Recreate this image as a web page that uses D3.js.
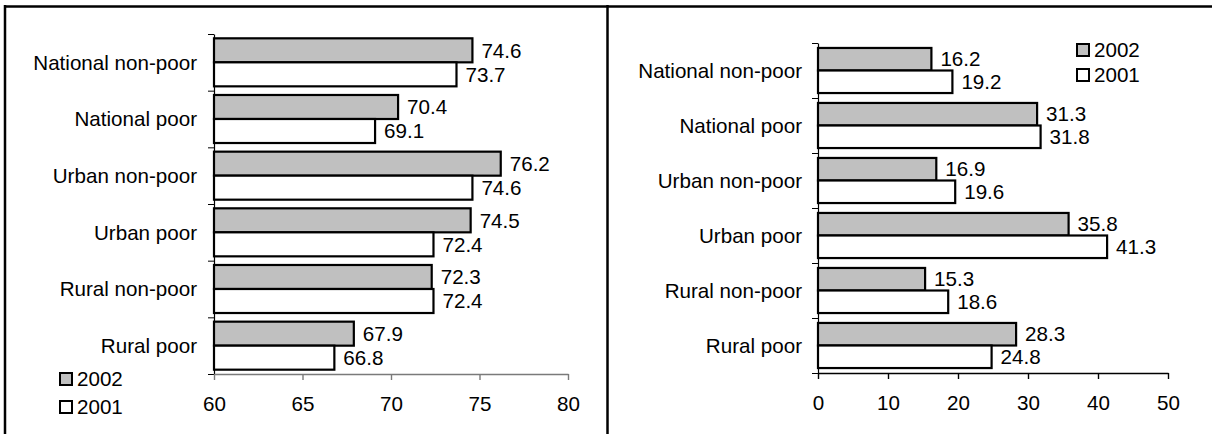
<!DOCTYPE html>
<html>
<head>
<meta charset="utf-8">
<script src="https://cdn.jsdelivr.net/npm/d3@7"></script>
<style>
  html, body { margin: 0; padding: 0; background: #fff; }
  svg { display: block; }
  text { font-family: "Liberation Sans", Arial, sans-serif; fill: #000; }
</style>
</head>
<body>
<svg id="chart" width="1212" height="434"></svg>
<script>
const categories = ["National non-poor", "National poor", "Urban non-poor", "Urban poor", "Rural non-poor", "Rural poor"];
const seriesNames = ["2002", "2001"];
const leftValues2002 = [74.6, 70.4, 76.2, 74.5, 72.3, 67.9];
const leftValues2001 = [73.7, 69.1, 74.6, 72.4, 72.4, 66.8];
const rightValues2002 = [16.2, 31.3, 16.9, 35.8, 15.3, 28.3];
const rightValues2001 = [19.2, 31.8, 19.6, 41.3, 18.6, 24.8];
const leftTicks = [60, 65, 70, 75, 80];
const rightTicks = [0, 10, 20, 30, 40, 50];

const colors = { "2002": "#c0c0c0", "2001": "#ffffff" };
const svg = d3.select("#chart");
const FS = 20.6;

// Frame
svg.append("line").attr("x1", 4).attr("x2", 1212).attr("y1", 6.5).attr("y2", 6.5)
  .attr("stroke", "#000").attr("stroke-width", 2.5);
svg.append("line").attr("x1", 5).attr("x2", 5).attr("y1", 5).attr("y2", 434)
  .attr("stroke", "#000").attr("stroke-width", 2.5);
svg.append("line").attr("x1", 607.5).attr("x2", 607.5).attr("y1", 5).attr("y2", 434)
  .attr("stroke", "#000").attr("stroke-width", 2.5);

function panel(cfg) {
  const g = svg.append("g");
  const x = d3.scaleLinear().domain(cfg.domain).range([cfg.x0, cfg.x1]);
  const y = d3.scaleBand().domain(categories).range([cfg.y0, cfg.y1]).padding(0);
  const yIdx = d3.scaleLinear().domain([0, categories.length]).range([cfg.y0, cfg.y1]);
  const sub = d3.scaleBand().domain(seriesNames).range([0, y.bandwidth()])
    .paddingInner(0).paddingOuter(cfg.subPad);

  const rows = [];
  categories.forEach((c, i) => {
    rows.push({ cat: c, s: "2002", v: cfg.v2002[i] });
    rows.push({ cat: c, s: "2001", v: cfg.v2001[i] });
  });

  // y axis with ticks at band boundaries
  const yAxis = g.append("g").attr("transform", `translate(${cfg.x0},0)`)
    .call(d3.axisLeft(yIdx).tickValues(d3.range(0, categories.length + 1)).tickFormat("").tickSize(6).tickSizeOuter(0));
  yAxis.select(".domain").attr("stroke", "#000").attr("stroke-width", 1.2);
  yAxis.selectAll(".tick line").attr("stroke", "#000").attr("stroke-width", 1);

  // category labels
  g.selectAll(".cat").data(categories).join("text")
    .attr("x", cfg.x0 - cfg.labelGap)
    .attr("y", d => y(d) + y.bandwidth() / 2)
    .attr("dy", "0.35em")
    .attr("text-anchor", "end")
    .attr("font-size", FS)
    .text(d => d);

  // x axis
  const xAxis = g.append("g").attr("transform", `translate(0,${cfg.y1})`)
    .call(d3.axisBottom(x).tickValues(cfg.ticks).tickSize(6).tickSizeOuter(0).tickPadding(16));
  xAxis.select(".domain").attr("stroke", cfg.axisColor).attr("stroke-width", 1.4);
  xAxis.selectAll(".tick line").attr("stroke", cfg.axisColor).attr("stroke-width", 1.4);
  xAxis.selectAll(".tick text").attr("font-size", FS)
    .attr("font-family", '"Liberation Sans", Arial, sans-serif').attr("fill", "#000");

  // bars
  g.selectAll(".bar").data(rows).join("rect")
    .attr("x", x(cfg.domain[0]))
    .attr("y", d => y(d.cat) + sub(d.s))
    .attr("width", d => x(d.v) - x(cfg.domain[0]))
    .attr("height", sub.bandwidth())
    .attr("fill", d => colors[d.s])
    .attr("stroke", "#000")
    .attr("stroke-width", 2.2);

  // value labels
  g.selectAll(".val").data(rows).join("text")
    .attr("x", d => x(d.v) + 9)
    .attr("y", d => y(d.cat) + sub(d.s) + sub.bandwidth() / 2)
    .attr("dy", "0.35em")
    .attr("font-size", FS)
    .text(d => d.v.toFixed(1));

  // legend
  const lg = g.selectAll(".leg").data(seriesNames).join("g")
    .attr("transform", (d, i) => `translate(${cfg.legX},${cfg.legY + i * cfg.legStep})`);
  lg.append("rect").attr("x", 0).attr("y", -6).attr("width", 12).attr("height", 12)
    .attr("fill", d => colors[d]).attr("stroke", "#000").attr("stroke-width", 2);
  lg.append("text").attr("x", 17).attr("y", 0).attr("dy", "0.35em")
    .attr("font-size", FS).text(d => d);
}

panel({
  domain: [60, 80], x0: 214, x1: 568, y0: 34, y1: 374,
  v2002: leftValues2002, v2001: leftValues2001, ticks: leftTicks,
  subPad: 0.18, labelGap: 17, axisColor: "#7a7a7a",
  legX: 60, legY: 379, legStep: 28
});

panel({
  domain: [0, 50], x0: 818, x1: 1168, y0: 43, y1: 373,
  v2002: rightValues2002, v2001: rightValues2001, ticks: rightTicks,
  subPad: 0.22, labelGap: 16, axisColor: "#000",
  legX: 1077, legY: 50, legStep: 25
});
</script>
</body>
</html>
